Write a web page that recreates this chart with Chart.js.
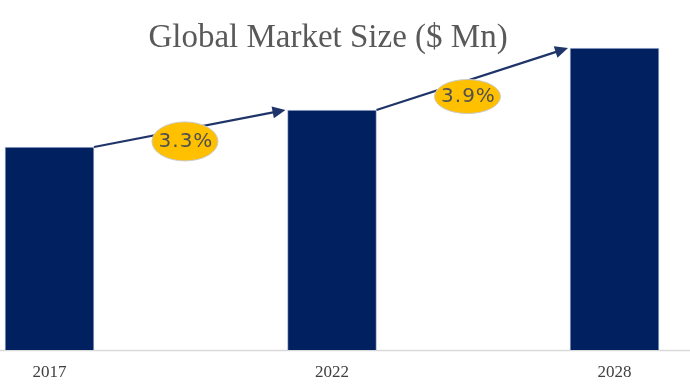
<!DOCTYPE html>
<html>
<head>
<meta charset="utf-8">
<script src="https://cdn.jsdelivr.net/npm/chart.js@4/dist/chart.umd.min.js"></script>
<style>
    html, body { margin: 0; padding: 0; background: #fff; }
    #wrap { width: 690px; height: 388px; position: relative; }
</style>
</head>
<body>
<div id="wrap"><canvas id="marketChart"></canvas></div>
<script>
// Chart data
const years = ['2017', '2022', '2028'];
const marketSize = [1015, 1200, 1510];
const growthLabels = ['3.3%', '3.9%'];
const yMax = 1750;

const chartTitle = 'Global Market Size ($ Mn)';

// Title, baseline, CAGR arrows and bubbles
const annotations = {
    id: 'annotations',
    beforeDatasetsDraw(chart) {
        const ctx = chart.ctx;
        const area = chart.chartArea;
        ctx.save();
        ctx.strokeStyle = '#D9D9D9';
        ctx.lineWidth = 1.5;
        ctx.beginPath();
        ctx.moveTo(0, area.bottom + 0.5);
        ctx.lineTo(chart.width, area.bottom + 0.5);
        ctx.stroke();
        ctx.restore();
    },
    afterDraw(chart, args, opts) {
        const ctx = chart.ctx;
        const bars = chart.getDatasetMeta(0).data;

        // title
        ctx.save();
        ctx.font = '33px "Liberation Serif", "Times New Roman", serif';
        ctx.fillStyle = '#595959';
        ctx.textAlign = 'center';
        ctx.textBaseline = 'alphabetic';
        ctx.fillText(chartTitle, 328, 47);
        ctx.restore();

        for (let i = 0; i < bars.length - 1; i++) {
            const a = bars[i], b = bars[i + 1];
            const x1 = a.x + a.width / 2, y1 = a.y;
            const x2 = b.x - b.width / 2 - 2, y2 = b.y;
            const ang = Math.atan2(y2 - y1, x2 - x1);

            ctx.save();
            ctx.strokeStyle = '#1F3468';
            ctx.fillStyle = '#1F3468';
            ctx.lineWidth = 2.2;
            ctx.beginPath();
            ctx.moveTo(x1, y1);
            ctx.lineTo(x2 - 10 * Math.cos(ang), y2 - 10 * Math.sin(ang));
            ctx.stroke();
            ctx.translate(x2, y2);
            ctx.rotate(ang);
            ctx.beginPath();
            ctx.moveTo(0, 0);
            ctx.lineTo(-13, -6);
            ctx.lineTo(-13, 6);
            ctx.closePath();
            ctx.fill();
            ctx.restore();

            // bubble
            const t = 0.475;
            const cx = x1 + (x2 - x1) * t;
            const cy = y1 + (y2 - y1) * t + opts.dy[i];
            ctx.save();
            ctx.beginPath();
            ctx.ellipse(cx, cy, 33, opts.ry[i], 0, 0, Math.PI * 2);
            ctx.fillStyle = '#FFC000';
            ctx.fill();
            ctx.strokeStyle = '#C9C9C9';
            ctx.lineWidth = 1;
            ctx.stroke();
            ctx.font = '20px "DejaVu Sans", sans-serif';
            ctx.letterSpacing = '1px';
            ctx.fillStyle = '#505050';
            ctx.textAlign = 'center';
            ctx.textBaseline = 'middle';
            ctx.fillText(growthLabels[i], cx + 1, cy);
            ctx.restore();
        }
    }
};

const ctx = document.getElementById('marketChart').getContext('2d');
const chart = new Chart(ctx, {
    type: 'bar',
    data: {
        labels: years,
        datasets: [{
            data: marketSize,
            backgroundColor: '#002060',
            borderColor: '#A9B6D2',
            borderWidth: 1,
            barThickness: 89,
            clip: false
        }]
    },
    options: {
        responsive: true,
        maintainAspectRatio: false,
        animation: false,
        layout: {
            padding: { top: 0, left: 49.5, right: 75.5, bottom: 0 }
        },
        plugins: {
            legend: { display: false },
            tooltip: { enabled: false },
            annotations: { dy: [12, 16], ry: [19.5, 17] }
        },
        scales: {
            x: {
                offset: false,
                grid: { display: false, drawTicks: false },
                border: { display: false },
                ticks: {
                    color: '#404040',
                    padding: 12,
                    font: { family: '"Liberation Serif", "Times New Roman", serif', size: 17 }
                },
                afterFit(scale) { scale.height = 38; }
            },
            y: {
                display: false,
                min: 0,
                max: yMax
            }
        }
    },
    plugins: [annotations]
});
</script>
</body>
</html>
